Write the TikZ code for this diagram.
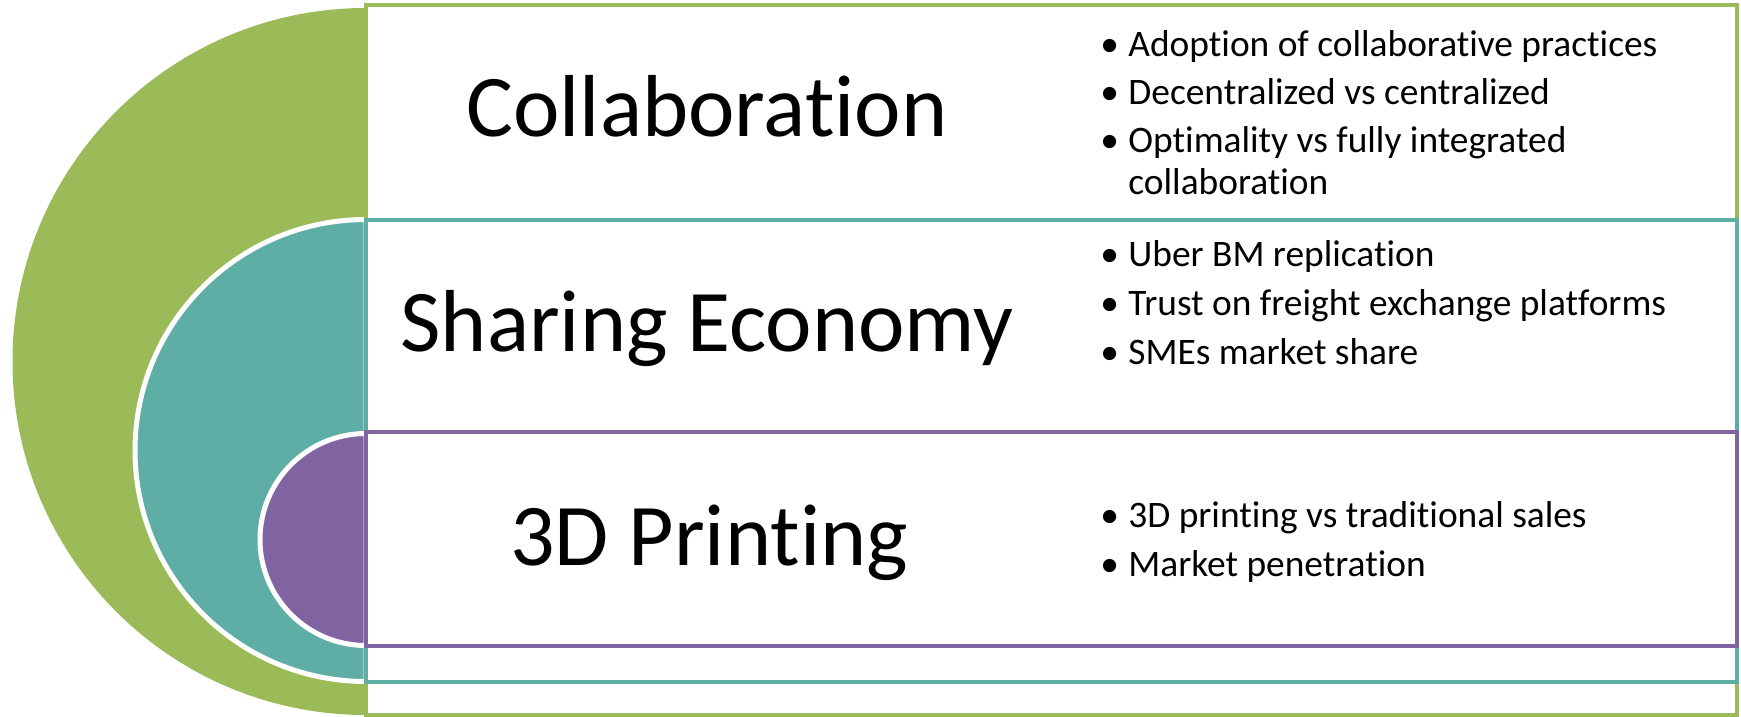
\documentclass[tikz,border=0pt]{standalone}
\usepackage{fontspec}
\setmainfont[Ligatures=NoCommon]{Carlito}
\usepackage{array}
\definecolor{cgreen}{HTML}{9BBB59}
\definecolor{cteal}{HTML}{5EAEA6}
\definecolor{cpurple}{HTML}{8064A2}
\newcommand{\bitem}{\makebox[14pt][l]{\textbullet}}
\begin{document}
\begin{tikzpicture}[x=0.5pt,y=-0.5pt,
  boxline/.style={line width=2.25pt, fill=white},
  semiline/.style={line width=2.5pt, draw=white},
  title/.style={anchor=base, inner sep=0pt, font=\fontsize{44}{53}\selectfont},
  blist/.style={anchor=base west, inner sep=0pt, font=\fontsize{18.7}{21}\selectfont}]
\useasboundingbox (0,0) rectangle (1741,717);
% semicircles
\fill[cgreen] (366,8) arc[start angle=270, end angle=90, radius=353.5] -- cycle;
\filldraw[cteal, semiline] (366,219.5) arc[start angle=270, end angle=90, radius=231] -- cycle;
\filldraw[cpurple, semiline] (366,433.5) arc[start angle=270, end angle=90, radius=106] -- cycle;
% boxes
\draw[boxline, draw=cgreen] (366,5) rectangle (1737,715);
\draw[boxline, draw=cteal] (366,220) rectangle (1737,682);
\draw[boxline, draw=cpurple] (366,432) rectangle (1737,646);
% titles
\node[title] (t1) at (707,137) {Collaboration};
\node[title] (t2) at (707,351) {Sharing Economy};
\node[title] (t3) at (709,565) {3D Printing};
% bullet lists
\node[blist] (l1) at (1100,57) {\begin{tabular}[t]{@{}l@{}}
\bitem Adoption of collaborative practices\\[3pt]
\bitem Decentralized vs centralized\\[3pt]
\bitem Optimality vs fully integrated\\
\hspace{14pt}collaboration
\end{tabular}};
\node[blist] (l2) at (1100,266) {\begin{tabular}[t]{@{}l@{}}
\bitem Uber BM replication\\[3.5pt]
\bitem Trust on freight exchange platforms\\[3.5pt]
\bitem SMEs market share
\end{tabular}};
\node[blist] (l3) at (1100,527) {\begin{tabular}[t]{@{}l@{}}
\bitem 3D printing vs traditional sales\\[3.5pt]
\bitem Market penetration
\end{tabular}};
\end{tikzpicture}
\end{document}
